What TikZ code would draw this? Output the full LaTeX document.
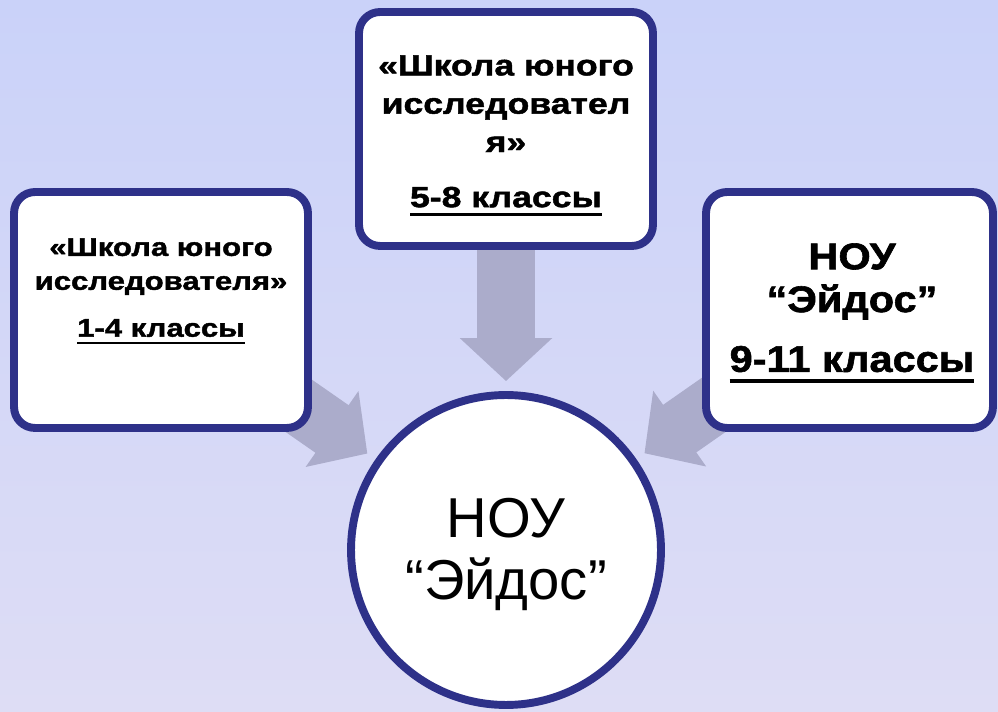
\documentclass[tikz,border=0pt]{standalone}
\usepackage{fontspec}
\setmainfont{Liberation Sans}
\newfontfamily\widefont[FakeStretch=1.22, BoldFeatures={FakeBold=1.6}]{Liberation Sans}
\newfontfamily\midwidefont[FakeStretch=1.12, BoldFeatures={FakeBold=1.6}]{Liberation Sans}
\usetikzlibrary{arrows.meta, shadows, backgrounds}

\definecolor{framecol}{HTML}{2E3189}
\definecolor{arrowcol}{HTML}{ABACCB}
\definecolor{bgtop}{HTML}{CAD2F9}
\definecolor{bgbottom}{HTML}{DEDDF5}

% thick underline for the grade lines
\newcommand{\gradeline}[1]{\setbox0\hbox{#1}\rlap{\rule[-0.3em]{\wd0}{0.1em}}\box0}

\tikzset{
    stage/.style={draw=framecol, line width=4.5pt, fill=white, rounded corners=0.42cm,
        drop shadow={shadow xshift=1.5pt, shadow yshift=-1.5pt, fill=black, opacity=0.18}},
    hub/.style={circle, draw=framecol, line width=4.5pt, fill=white, minimum size=6.2cm,
        drop shadow={shadow xshift=1.5pt, shadow yshift=-1.5pt, fill=black, opacity=0.18}},
    stagetext/.style={align=center, anchor=north, inner sep=0pt},
    bigarrow/.style={arrowcol, line width=1.16cm, -{Triangle[length=0.86cm, width=1.8cm]}, shorten >=0.2cm}
}

\begin{document}
\begin{tikzpicture}[x=0.02cm, y=-0.02cm]
        \useasboundingbox (0,0) rectangle (998,712);

        \node[stage, minimum width=5.88cm, minimum height=4.72cm] (left) at (161, 310) {};
        \node[stage, minimum width=5.88cm, minimum height=4.68cm] (top) at (506, 129) {};
        \node[stage, minimum width=5.74cm, minimum height=4.72cm] (right) at (849.5, 310) {};
        \node[hub] (eidos) at (506, 550) {};

        \node[stagetext, font=\widefont\bfseries\fontsize{14.5}{19.3}\selectfont] (lefttext) at (161, 238)
            {«Школа юного\\исследователя»\\[7.4pt]\gradeline{1-4 классы}};
        \node[stagetext, font=\widefont\bfseries\fontsize{16.6}{21.8}\selectfont] (toptext) at (506, 55)
            {«Школа юного\\исследовател\\я»\\[9.6pt]\gradeline{5-8 классы}};
        \node[stagetext, font=\midwidefont\bfseries\fontsize{21.1}{24.4}\selectfont] (righttext) at (852, 243)
            {НОУ\\“Эйдос”\\[9.6pt]\gradeline{9-11 классы}};
        \node[stagetext, font=\fontsize{32}{35.2}\selectfont] (eidostext) at (506, 498)
            {НОУ\\“Эйдос”};

        \begin{scope}[on background layer]
            \fill[top color=bgtop, bottom color=bgbottom] (0,0) rectangle (998,712);
            \draw[bigarrow] (left.center) -- (eidos);
            \draw[bigarrow] (top.center) -- (eidos);
            \draw[bigarrow] (right.center) -- (eidos);
        \end{scope}
\end{tikzpicture}
\end{document}
